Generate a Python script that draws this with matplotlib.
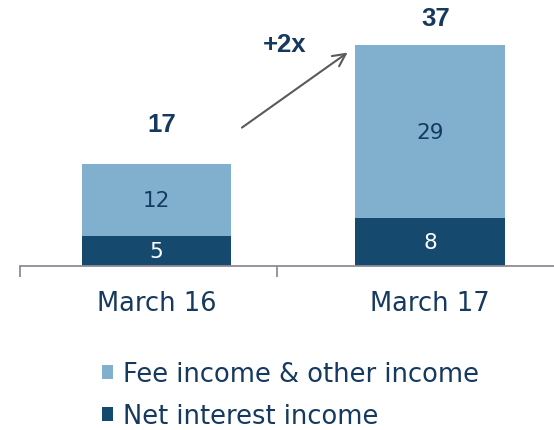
import numpy as np
import matplotlib
matplotlib.use('Agg')
from matplotlib import pyplot as plt

categories = ["March 16", "March 17"]
net_interest = [5, 8]
fee_income = [12, 29]
totals = [17, 37]

DARK = "#154a6e"
LIGHT = "#80b0ce"
TEXT = "#163a5f"

plt.rcParams['font.family'] = ['DejaVu Sans']

fig = plt.figure(figsize=(5.54, 4.31), dpi=100)
ax = fig.add_axes([0.036, 0.3805, 0.964, 0.6195])

x = np.arange(len(categories))
w = 0.546
b1 = ax.bar(x, net_interest, w, color=DARK, label="Net interest income")
b2 = ax.bar(x, fee_income, w, bottom=net_interest, color=LIGHT, label="Fee income & other income")

ax.bar_label(b1, label_type='center', color="white", fontsize=15.5)
ax.bar_label(b2, label_type='center', color=TEXT, fontsize=15.5)
gaps = [4.8, 2.5]
for xi, t, g in zip(x, totals, gaps):
    ax.text(xi + 0.02, t + g, str(t), ha='center', va='bottom', fontsize=18.5,
            fontweight='bold', color=TEXT, family=['Liberation Sans'])

ax.set_xlim(-0.5, 1.454)
ax.set_ylim(0, 44.7)
ax.set_yticks([])
for s in ["left", "right", "top"]:
    ax.spines[s].set_visible(False)
ax.spines["bottom"].set_color("#8c8c96")
ax.spines["bottom"].set_linewidth(1.3)
ax.set_xticks(x)
ax.set_xticklabels(categories, fontsize=18.5, color=TEXT)
ax.tick_params(axis='x', which='major', length=0, pad=17)
ax.set_xticks([-0.5, 0.44], minor=True)
ax.tick_params(axis='x', which='minor', length=8, width=1.3, color="#8c8c96")

ax.annotate("", xy=(0.707, 36.0), xytext=(0.304, 22.9),
            arrowprops=dict(arrowstyle="->,head_length=0.9,head_width=0.45", color="#5a5a5a", lw=1.5))
ax.text(0.47, 37.2, "+2x", ha='center', va='center', fontsize=18.5, fontweight='bold',
        color=TEXT, family=['Liberation Sans'])

handles = [b2, b1]
leg = fig.legend(handles, [h.get_label() for h in handles], loc='upper left',
                 bbox_to_anchor=(0.156, 0.196), frameon=False, fontsize=18.5,
                 handlelength=0.43, handleheight=0.43, handletextpad=0.39, labelspacing=0.64,
                 labelcolor=TEXT, borderpad=0.1)

fig.savefig("out.png", dpi=100)
